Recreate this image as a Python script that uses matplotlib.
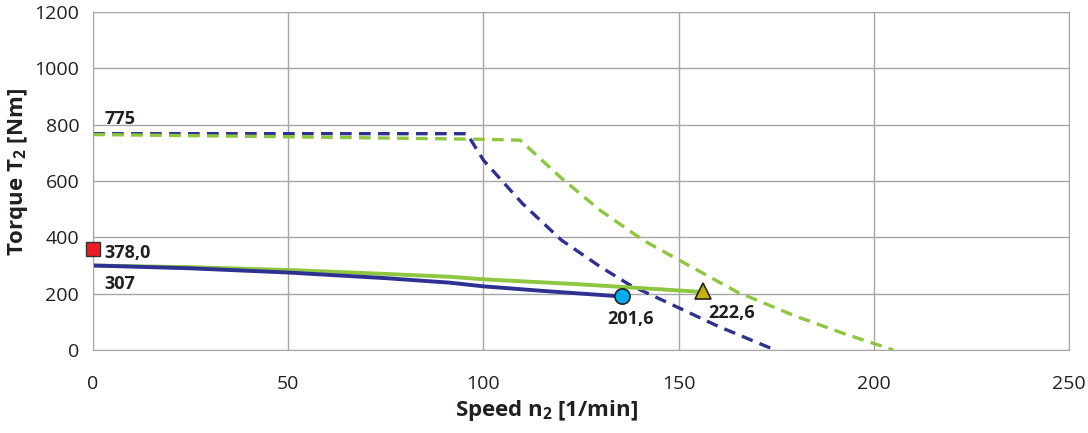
import matplotlib
matplotlib.use('Agg')
import matplotlib.pyplot as plt

plt.rcParams['font.family'] = ['Open Sans', 'DejaVu Sans']
plt.rcParams['mathtext.fontset'] = 'custom'
plt.rcParams['mathtext.rm'] = 'Open Sans'
plt.rcParams['mathtext.bf'] = 'Open Sans:bold'

# data
speed_blue_dash = [0, 50, 95.8, 100, 110, 120, 130, 137.5, 150, 160, 174.7]
torque_blue_dash = [768, 768, 768, 674, 520, 390, 295, 231, 150, 85, 0]
speed_green_dash = [0, 50, 100, 109.4, 120, 130, 140.9, 150, 165, 180, 192, 205]
torque_green_dash = [765, 757, 748, 745, 610, 495, 390, 320, 206, 120, 60, 0]
speed_blue = [0, 25, 50, 75, 91.4, 100, 115, 135.5]
torque_blue = [300, 290, 275, 255, 239, 226, 210, 190]
speed_green = [0, 25, 50, 75, 91.4, 100, 125, 156.2]
torque_green = [300, 294, 284, 270, 260, 251, 233, 206]

red_pt = (0, 358)
circle_pt = (135.5, 190)
tri_pt = (156.2, 208)

blue = '#2e3192'
green = '#8dc63f'
txt = '#231f20'

fig = plt.figure(figsize=(10.88, 4.33), dpi=100)
ax = fig.add_axes([0.0855, 0.1917, 0.897, 0.7806])

ax.plot(speed_blue_dash, torque_blue_dash, color=blue, lw=2.4, dashes=(3.5, 2.2))
ax.plot(speed_green_dash, torque_green_dash, color=green, lw=2.4, dashes=(3.5, 2.2))
ax.plot(speed_green, torque_green, color=green, lw=2.8, solid_capstyle='butt')
ax.plot(speed_blue, torque_blue, color=blue, lw=2.8, solid_capstyle='butt')

ax.plot(*red_pt, marker='s', ms=10, color='#ed1c24', mec='#333333', mew=1, clip_on=False, zorder=5)
ax.plot(*circle_pt, marker='o', ms=11, color='#00aeef', mec='#222222', mew=1.2, zorder=5)
ax.plot(*tri_pt, marker='^', ms=12, color='#c8b400', mec='#222222', mew=1.2, zorder=5)

fs = 13
ax.text(3, 820, '775', fontsize=fs, fontweight='bold', color=txt, va='center')
ax.text(3, 235, '307', fontsize=fs, fontweight='bold', color=txt, va='center')
ax.text(3, 345, '378,0', fontsize=fs, fontweight='bold', color=txt, va='center')
ax.text(circle_pt[0] + 2.3, 110, '201,6', fontsize=fs, fontweight='bold', color=txt, ha='center', va='center')
ax.text(tri_pt[0] + 7.5, 133, '222,6', fontsize=fs, fontweight='bold', color=txt, ha='center', va='center')

ax.set_xlim(0, 250)
ax.set_ylim(0, 1200)
ax.set_xticks(range(0, 251, 50))
ax.set_yticks(range(0, 1201, 200))
ax.grid(True, color='#a6a6a6', lw=1)
ax.set_axisbelow(True)
for s in ax.spines.values():
    s.set_color('#a6a6a6')
ax.tick_params(length=0, labelsize=14, colors=txt, pad=10)
ax.tick_params(axis='x', pad=18)

ax.set_xlabel(r'Speed n$_\mathbf{2}$ [1/min]', fontsize=16, fontweight='bold', color=txt, va='center')
ax.set_ylabel(r'Torque T$_\mathbf{2}$ [Nm]', fontsize=16, fontweight='bold', color=txt, va='center')
ax.xaxis.set_label_coords(0.465, -0.18)
ax.yaxis.set_label_coords(-0.0768, 0.527)

fig.savefig('out.png', dpi=100)
